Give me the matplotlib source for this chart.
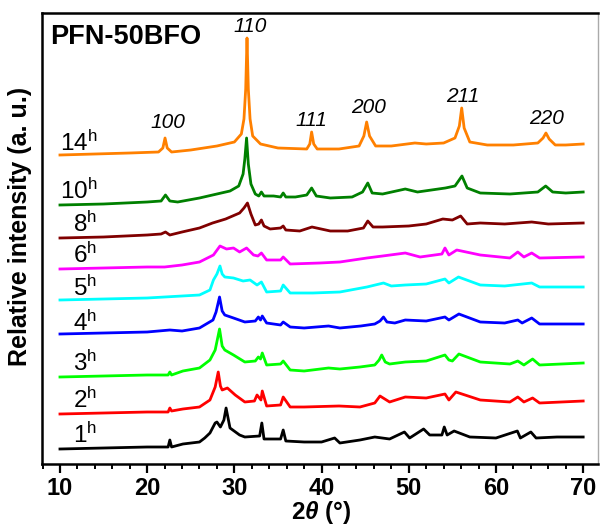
import matplotlib
matplotlib.use("Agg")
import matplotlib.pyplot as plt
from matplotlib.ticker import MultipleLocator

plt.rcParams['font.family'] = ['Liberation Sans', 'DejaVu Sans']
plt.rcParams['mathtext.fontset'] = 'custom'
plt.rcParams['mathtext.rm'] = 'Liberation Sans'
plt.rcParams['mathtext.it'] = 'Liberation Sans:italic:bold'
plt.rcParams['mathtext.bf'] = 'Liberation Sans:bold'

# ---------------- data (2theta in degrees, intensity in arbitrary stacked units) ----------------
labels = ["1", "2", "3", "4", "5", "6", "8", "10", "14"]
colors = ["#000000", "#FF0000", "#00FF00", "#0000FF", "#00FFFF", "#FF00FF", "#800000", "#008000", "#FF8000"]

x_1h = [10, 15, 20, 22.4, 22.6, 22.8, 24.1, 26, 26.6, 27.2, 27.8, 28.0, 28.4, 28.8, 29.05, 29.5, 30.6, 31.2,
        32.9, 33.15, 33.4, 35.3, 35.6, 35.9, 38, 40, 41.5, 42.1, 44.4, 46.1, 47.8, 49.5, 50.1, 51.7, 52.4,
        53.8, 54.07, 54.4, 55.2, 57, 60, 62.45, 62.8, 64.0, 64.6, 67, 70]
y_1h = [15, 16, 17, 17, 24, 17, 20, 22, 26, 31, 41, 42, 37, 44, 56, 36, 29, 27,
        28, 41, 25, 25, 34, 23, 22, 22, 26, 21, 24, 27, 25, 32, 26, 35, 29,
        29, 37, 29, 33, 27, 26, 33, 26, 32, 26, 27, 27]

x_2h = [10, 15, 20, 22.4, 22.6, 22.8, 24.1, 26, 27.2, 27.8, 28.15, 28.4, 28.6, 29.2, 30.1, 31.2, 32.3, 32.6,
        33.05, 33.2, 33.7, 35.3, 35.6, 36.4, 38, 42, 44.4, 46.1, 46.7, 47.8, 49.6, 52, 54.15, 54.6, 55.4,
        58.2, 61.6, 62.5, 63.2, 64.2, 65, 70]
y_2h = [50, 51, 52, 52, 56, 53, 55, 57, 64, 77, 92, 78, 74, 76, 69, 62, 63, 69,
        64, 73, 58, 59, 67, 57, 57, 58, 57, 61, 68, 62, 67, 66, 70, 64, 72,
        64, 62, 67, 62, 66, 61, 63]

x_3h = [10, 15, 20, 22.4, 22.6, 22.8, 24.1, 26, 27.2, 27.8, 28.3, 28.6, 28.9, 29.9, 31.2, 32.4, 32.75, 33.0,
        33.2, 33.7, 35.3, 35.6, 36.4, 38, 40.8, 42.1, 44.4, 46.1, 46.6, 46.9, 47.3, 47.8, 49.6, 52, 54.15,
        54.6, 55.0, 55.75, 58.2, 61.6, 62.5, 63.2, 64.2, 65, 70]
y_3h = [87, 88, 89, 89, 92, 89, 93, 96, 104, 114, 135, 118, 114, 109, 102, 103, 107, 105,
        111, 99, 100, 103, 94, 93, 96, 95, 97, 99, 104, 109, 102, 100, 102, 103, 109,
        104, 103, 110, 102, 100, 103, 99, 105, 99, 101]

x_4h = [10, 15, 20, 22.6, 24, 26, 27.55, 27.9, 28.3, 28.6, 28.9, 29.9, 31.2, 32.4, 32.75, 33.0, 33.2, 33.7,
        35.3, 35.6, 36.4, 38, 40.8, 42.1, 44.5, 46.1, 46.7, 47.1, 47.5, 48.4, 49.6, 52, 54.15, 54.6, 55.75,
        58.2, 61, 62.5, 63, 64.1, 65, 70]
y_4h = [130, 131, 132, 134, 133, 136, 144, 152, 167, 153, 149, 146, 142, 143, 147, 144, 148, 141,
        139, 142, 137, 136, 138, 136, 138, 140, 143, 147, 142, 141, 144, 143, 147, 144, 150,
        142, 141, 144, 141, 146, 140, 140]

x_5h = [10, 15, 20, 24, 26, 27.2, 27.6, 28.0, 28.35, 28.6, 28.9, 29.9, 31.0, 31.8, 32.6, 33.1, 33.7, 35.3,
        35.6, 36.4, 39, 42.1, 45.2, 47.1, 48, 49.6, 52, 54.15, 54.6, 55.7, 58.2, 61, 64.1, 65, 70]
y_5h = [164, 165, 166, 168, 169, 174, 184, 190, 198, 190, 187, 186, 183, 184, 179, 182, 172, 173,
        179, 171, 171, 172, 177, 181, 178, 179, 180, 185, 181, 187, 179, 178, 181, 177, 177]

x_6h = [10, 15, 20, 22, 24, 26, 27.6, 28.35, 29.1, 29.9, 30.6, 31.4, 32.2, 32.7, 33.1, 33.7, 35.3, 35.6,
        36.4, 39.8, 42.1, 45.2, 47, 49.6, 51.3, 53.8, 54.15, 54.6, 55.5, 58.2, 61.6, 62.5, 63.2, 64.1, 65, 70]
y_6h = [195, 196, 197, 197, 199, 202, 209, 218, 215, 216, 212, 216, 209, 208, 211, 204, 204, 207,
        200, 201, 202, 206, 208, 211, 207, 210, 216, 209, 214, 209, 206, 212, 207, 211, 206, 207]

x_8h = [10, 15, 20, 21.6, 22.1, 22.6, 24, 26, 27.5, 29, 30.6, 31.1, 31.5, 31.9, 32.4, 32.8, 33.1, 33.4,
        34.1, 35.3, 35.6, 35.9, 37.5, 38.9, 41, 43, 44.8, 45.3, 45.9, 47, 50, 52, 53.9, 55.0, 55.95, 56.7,
        58.2, 61, 64.1, 66, 70]
y_8h = [226, 227, 229, 230, 232, 229, 232, 236, 241, 245, 251, 256, 261, 250, 239, 240, 244, 238,
        235, 236, 238, 234, 233, 237, 233, 233, 236, 243, 237, 237, 238, 240, 245, 244, 248, 240,
        241, 240, 242, 240, 241]

x_10h = [10, 15, 20, 21.6, 22.1, 22.6, 23.5, 26, 28, 29.5, 30.5, 31.0, 31.2, 31.4, 31.6, 31.9, 32.4, 32.8,
         33.1, 33.4, 34.5, 35.3, 35.6, 35.9, 37, 38.3, 38.86, 39.4, 41, 43.5, 44.7, 45.3, 45.8, 47, 49.6,
         51, 54.2, 55.3, 56.1, 56.7, 58.2, 61.6, 64.8, 65.7, 66.5, 68, 70]
y_10h = [259, 260, 262, 263, 269, 263, 262, 266, 270, 273, 278, 290, 305, 326, 300, 280, 270, 268,
         272, 268, 268, 267, 271, 267, 267, 269, 276, 268, 266, 267, 272, 281, 271, 270, 275,
         272, 276, 278, 288, 276, 271, 270, 272, 278, 272, 271, 272]

x_14h = [10, 14, 18, 21.3, 21.8, 22.05, 22.3, 22.8, 25, 28, 30.0, 30.8, 31.1, 31.3, 31.45, 31.6, 31.8, 32.1,
         33, 35, 38.3, 38.65, 38.86, 39.1, 39.5, 42, 44.3, 44.85, 45.17, 45.5, 46.2, 48, 50.7, 52, 54, 55.3,
         55.8, 56.07, 56.35, 57, 59, 62, 64.8, 65.4, 65.73, 66.1, 66.8, 68, 70]
y_14h = [309, 310, 311, 312, 316, 326, 316, 312, 314, 318, 322, 330, 345, 375, 426, 375, 345, 328,
         320, 316, 315, 320, 332, 320, 315, 315, 318, 328, 342, 328, 318, 318, 321, 320, 321, 326,
         338, 356, 336, 322, 319, 319, 321, 326, 331, 325, 319, 319, 320]

peak_labels = ["100", "110", "111", "200", "211", "220"]
peak_pos = [22.4, 31.8, 38.86, 45.35, 56.15, 65.8]

series_x = [x_1h, x_2h, x_3h, x_4h, x_5h, x_6h, x_8h, x_10h, x_14h]
series_y = [y_1h, y_2h, y_3h, y_4h, y_5h, y_6h, y_8h, y_10h, y_14h]

# ---------------- figure ----------------
W, H = 600, 528
fig = plt.figure(figsize=(6.0, 5.28), dpi=100)
ax = fig.add_axes([42 / W, 64 / H, 556 / W, 451 / H])

for xs, ys, c in zip(series_x, series_y, colors):
    ax.plot(xs, ys, color=c, lw=2.0, solid_joinstyle='round')

ax.set_xlim(7.94, 71.7)
ax.set_ylim(0, 451)

# curve labels (left x in degrees, baseline height)
label_x = [11.5, 11.5, 11.5, 11.5, 11.5, 11.5, 11.5, 10.0, 10.0]
label_base = [21, 56, 93, 133, 168, 201, 232, 265, 313]
for t, lx, ly in zip(labels, label_x, label_base):
    ax.text(lx, ly, t + r'$^{\mathregular{h}}$', fontsize=17.5, ha='left', va='baseline')

# peak index labels
peak_base = [336, 432, 338, 351, 362, 340]
for t, px, py in zip(peak_labels, peak_pos, peak_base):
    ax.text(px, py, t, fontsize=15, fontstyle='italic', ha='center', va='baseline')

ax.text(8.9, 420, "PFN-50BFO", fontsize=19.5, fontweight='bold', ha='left', va='baseline')

# axes styling
for s in ['left', 'bottom', 'top']:
    ax.spines[s].set_linewidth(1.8)
ax.spines['right'].set_linewidth(1.0)
ax.spines['right'].set_color('#aaaaaa')
ax.set_yticks([])
ax.xaxis.set_major_locator(MultipleLocator(10))
ax.xaxis.set_minor_locator(MultipleLocator(2))
ax.tick_params(axis='x', which='major', direction='out', length=6.5, width=1.6, pad=3,
               labelsize=17)
ax.tick_params(axis='x', which='minor', direction='out', length=3.8, width=1.4)
for lab in ax.get_xticklabels():
    lab.set_fontweight('bold')

fig.text(321 / W, 1 - 513 / H, r'2$\mathit{\theta}$ (°)', fontsize=17.5, fontweight='bold',
         ha='center', va='center')
fig.text(20 / W, 1 - 226 / H, 'Relative intensity (a. u.)', fontsize=18, fontweight='bold',
         rotation=90, ha='center', va='center')

fig.savefig('out.png', dpi=100)
